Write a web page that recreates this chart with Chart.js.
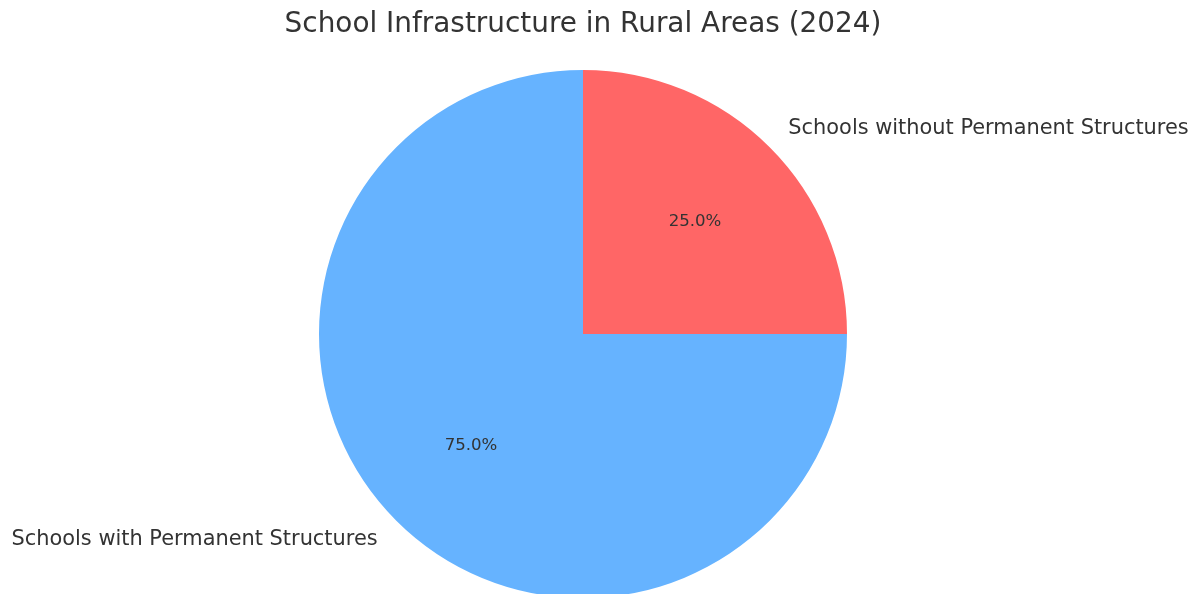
<!DOCTYPE html>
<html>
<head>
<meta charset="utf-8">
<script src="https://cdn.jsdelivr.net/npm/chart.js@4.4.0/dist/chart.umd.min.js"></script>
<style>
    html, body { margin: 0; padding: 0; background: #fff; overflow: hidden; }
    #wrap { position: relative; width: 1204px; height: 600px; }
</style>
</head>
<body>
<div id="wrap"><canvas id="chart"></canvas></div>
<script>
var chartTitle = 'School Infrastructure in Rural Areas (2024)';
var categories = ['Schools with Permanent Structures', 'Schools without Permanent Structures'];
var shares = [75, 25];
var sliceColors = ['#66b3ff', '#ff6666'];

// draws title, outside labels and percentages like matplotlib's pie
var pieText = {
    id: 'pieText',
    afterDraw: function(chart) {
        var ctx = chart.ctx;
        var meta = chart.getDatasetMeta(0);
        var total = shares.reduce(function(a, b) { return a + b; }, 0);
        ctx.save();
        ctx.fillStyle = '#333333';
        ctx.textBaseline = 'middle';

        ctx.font = '27.9px "DejaVu Sans"';
        ctx.textAlign = 'center';
        ctx.fillText(chartTitle, 583, 25);

        meta.data.forEach(function(arc, i) {
            var p = arc.getProps(['x', 'y', 'startAngle', 'endAngle', 'outerRadius'], true);
            var mid = (p.startAngle + p.endAngle) / 2;
            var cx = Math.cos(mid), cy = Math.sin(mid);

            ctx.font = '20.9px "DejaVu Sans"';
            ctx.textAlign = cx >= 0 ? 'left' : 'right';
            ctx.fillText(categories[i], p.x + cx * p.outerRadius * 1.1, p.y + cy * p.outerRadius * 1.1);

            ctx.font = '16.6px "DejaVu Sans"';
            ctx.textAlign = 'center';
            ctx.fillText((shares[i] / total * 100).toFixed(1) + '%', p.x + cx * p.outerRadius * 0.6, p.y + cy * p.outerRadius * 0.6);
        });
        ctx.restore();
    }
};

var ctx = document.getElementById('chart');
var chart = new Chart(ctx, {
    type: 'pie',
    data: {
        labels: categories,
        datasets: [{
            data: shares,
            backgroundColor: sliceColors,
            borderWidth: 0
        }]
    },
    options: {
        responsive: true,
        maintainAspectRatio: false,
        animation: false,
        rotation: 90,
        layout: {
            padding: { top: 70, left: 319, right: 357, bottom: 2 }
        },
        plugins: {
            legend: { display: false },
            tooltip: { enabled: false }
        }
    },
    plugins: [pieText]
});
</script>
</body>
</html>
